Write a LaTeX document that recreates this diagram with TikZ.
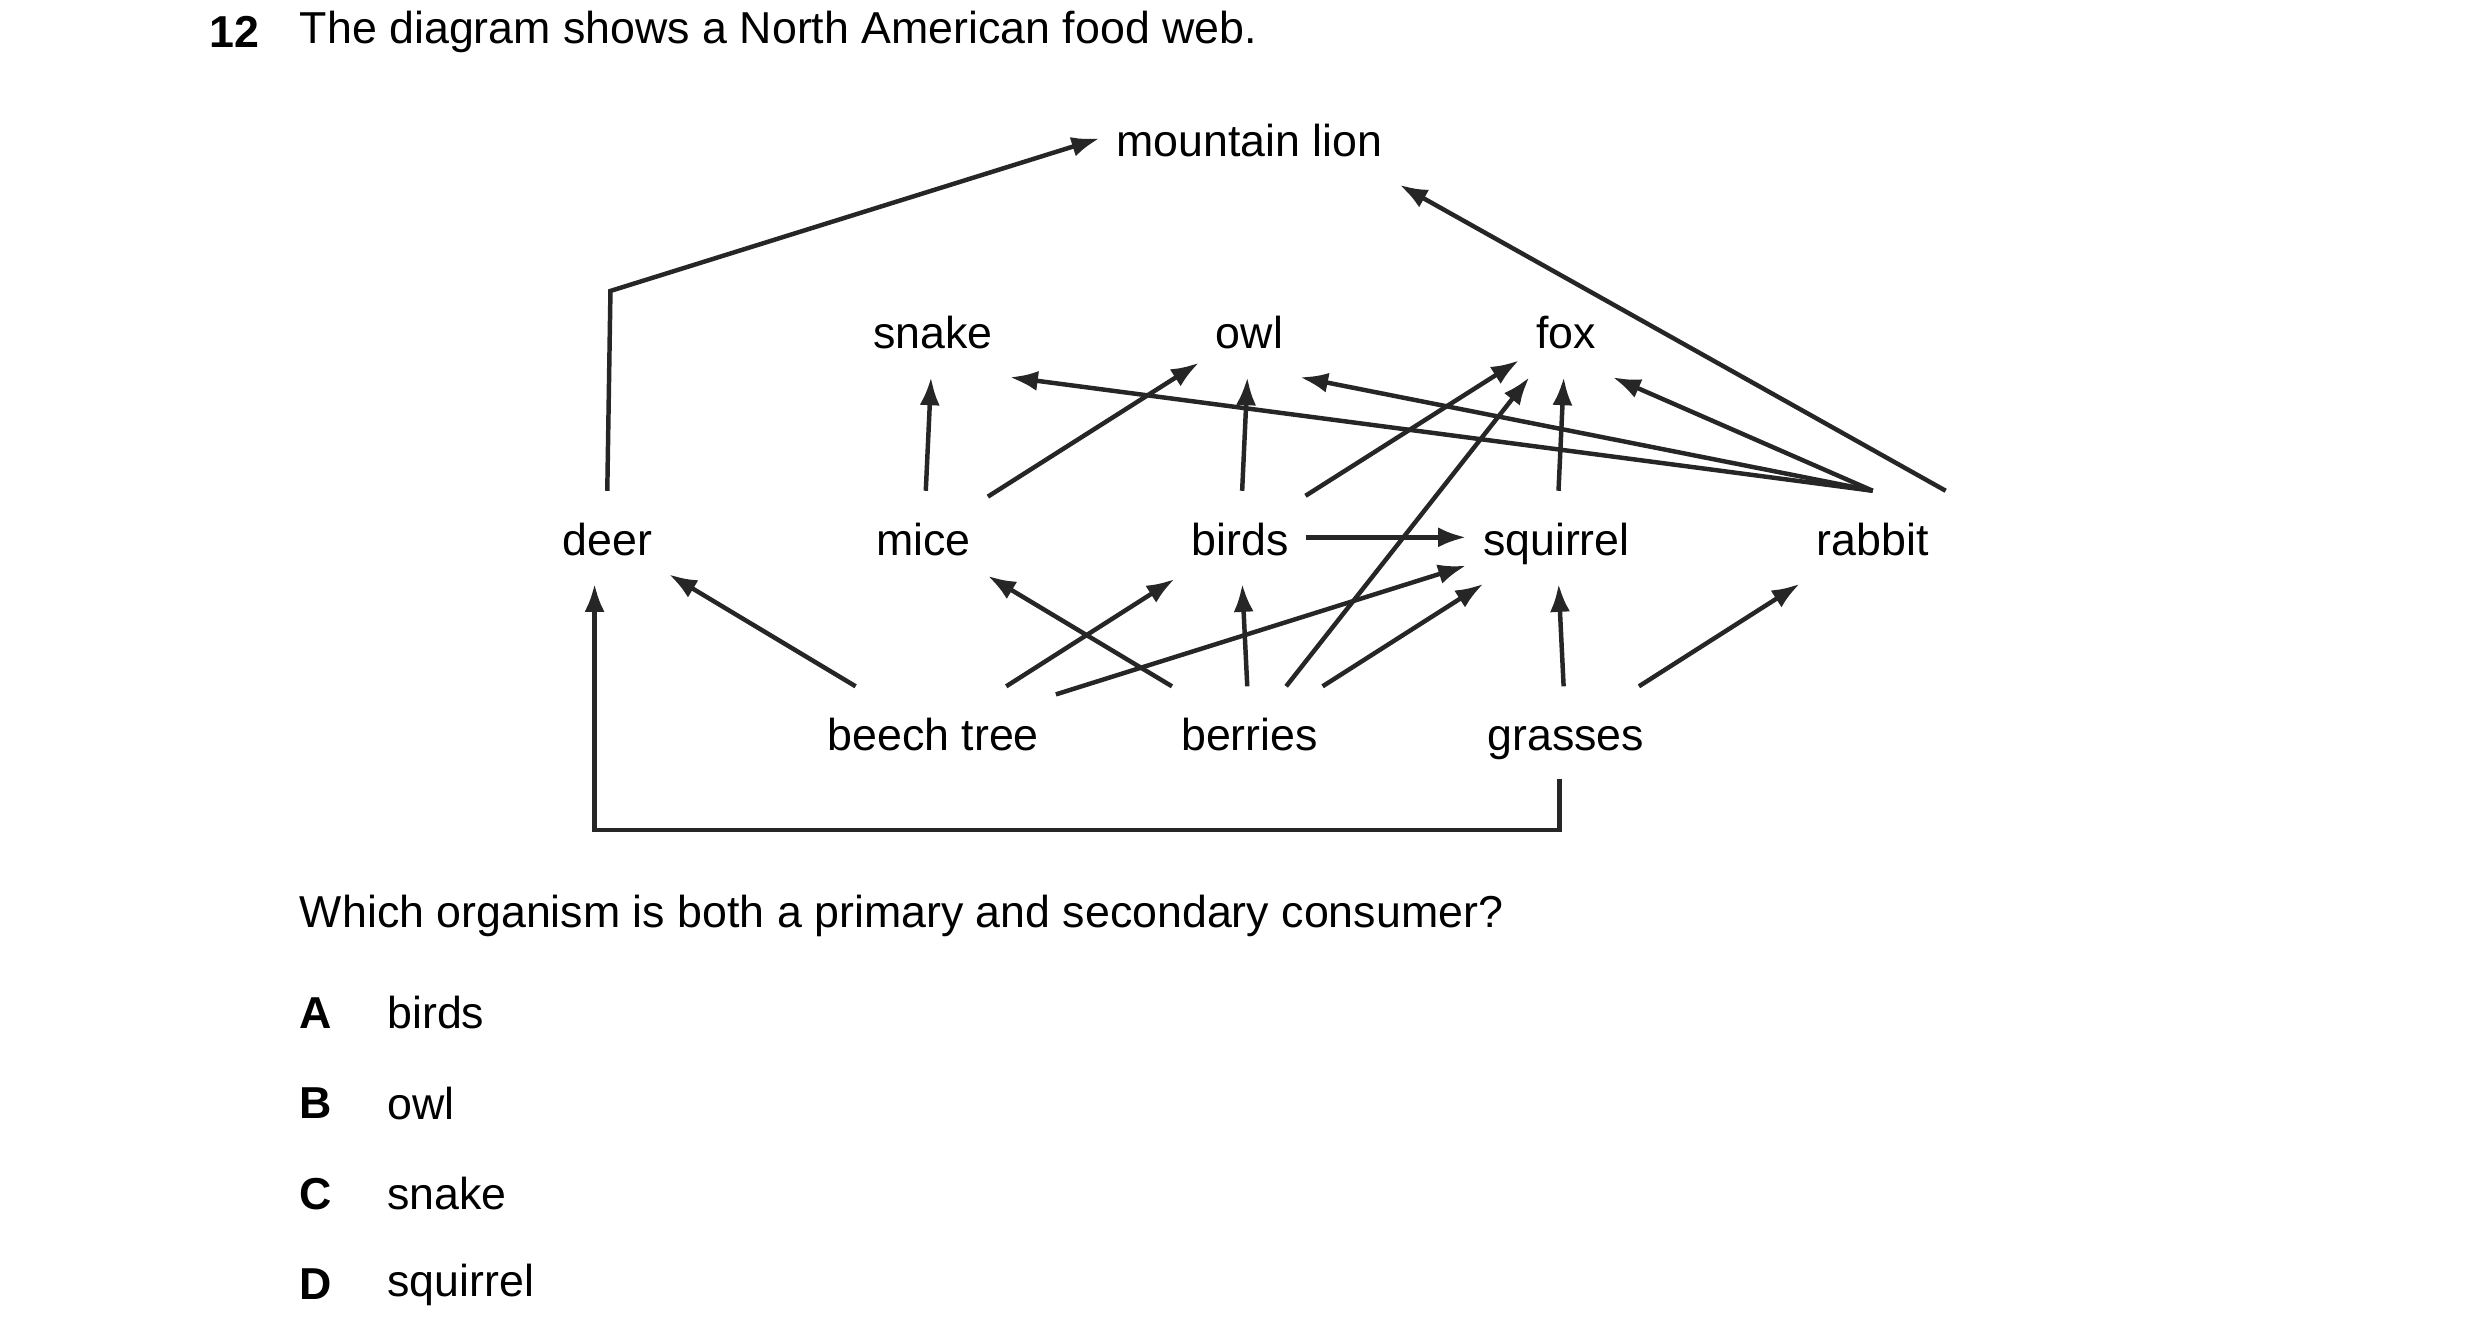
\documentclass[tikz,border=0pt]{standalone}
\usepackage{fontspec}
\setmainfont{Liberation Sans}
\usetikzlibrary{arrows.meta}
\tikzset{
  org/.style={inner sep=0.1cm, text height=1.6ex, text depth=0.4ex, font=\fontsize{8}{9.5}\selectfont},
  txt/.style={inner sep=0pt, anchor=west, font=\fontsize{8}{9.5}\selectfont},
  eat/.style={-{Latex[length=5pt,width=3.6pt]}, line width=0.8pt, black!85}
}
\begin{document}
\begin{tikzpicture}[x=0.01cm,y=-0.01cm]
    \useasboundingbox (0,0) rectangle (1560,845);
    % heading and question
    \node[txt, font=\fontsize{8}{9.5}\selectfont\bfseries] (num) at (131,20) {12};
    \node[txt] (title) at (188,20) {The diagram shows a North American food web.};
    \node[txt] (quest) at (188,576) {Which organism is both a primary and secondary consumer?};
    \foreach \l/\t/\y in {A/birds/637,B/owl/694,C/snake/751,D/squirrel/808}{
      \node[txt, font=\fontsize{8}{9.5}\selectfont\bfseries] (opt\l) at (188,\y) {\l};
      \node[txt] (ans\l) at (243,\y) {\t};
    }
    % organisms
    \node[org] (lion) at (786,87) {mountain lion};
    \node[org] (snake) at (587,208) {snake};
    \node[org] (owl) at (786,208) {owl};
    \node[org] (fox) at (985,208) {fox};
    \node[org] (deer) at (382,338) {deer};
    \node[org] (mice) at (581,338) {mice};
    \node[org] (birds) at (780,338) {birds};
    \node[org] (squirrel) at (979,338) {squirrel};
    \node[org] (rabbit) at (1178,338) {rabbit};
    \node[org] (beech) at (587,461) {beech tree};
    \node[org] (berries) at (786,461) {berries};
    \node[org] (grasses) at (985,461) {grasses};
    \coordinate (dbend) at (384,183);
    \coordinate (g1) at (981,522);
    \coordinate (g2) at (374,522);
    % feeding links
    \foreach \a/\b in {mice/snake, mice/owl, birds/owl,
      birds/fox, berries/fox, squirrel/fox,
      birds/squirrel, beech/deer, berries/mice, beech/birds, beech/squirrel,
      berries/birds, berries/squirrel, grasses/squirrel, grasses/rabbit}
      \draw[eat] (\a) -- (\b);
    \draw[eat] (rabbit.north) -- (owl.south east);
    \draw[eat] (rabbit.north) -- (snake.south east);
    \draw[eat] (rabbit.north) -- (fox.south east);
    \draw[eat] (rabbit.north east) -- (lion.south east);
    \draw[eat] (deer.north) -- (dbend) -- (lion.west);
    \draw[eat] (grasses.south -| g1) -- (g1) -- (g2) -- (deer.south -| g2);
\end{tikzpicture}
\end{document}
